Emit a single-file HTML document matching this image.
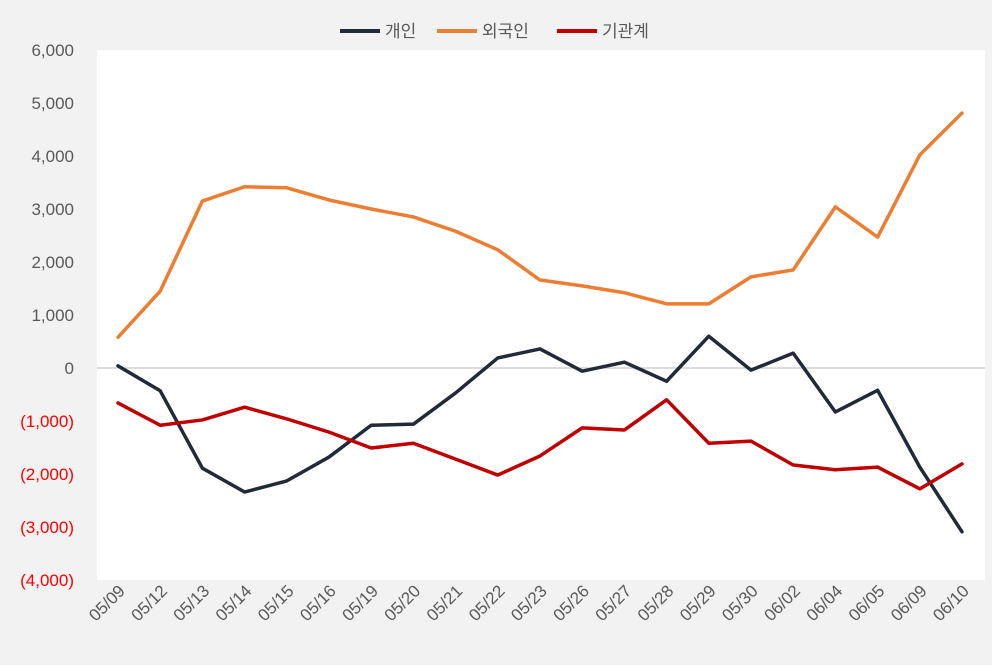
<!DOCTYPE html>
<html><head><meta charset="utf-8"><style>
body{margin:0;background:#f2f2f2;}
svg{display:block;font-family:"Liberation Sans","Noto Sans CJK KR",sans-serif;}
</style></head><body>
<svg id="chart" width="992" height="665" viewBox="0 0 992 665">
<rect x="0" y="0" width="992" height="665" fill="#f2f2f2"/>
<rect x="97" y="50" width="888" height="530" fill="#ffffff"/>
<g id="yaxis"></g>
<g id="xaxis"></g>
<g id="series"></g>
<g>
 <g><line x1="340" y1="31" x2="380" y2="31" stroke="#222a3a" stroke-width="4"/><text x="385" y="37" font-size="17" fill="#595959">개인</text></g>
 <g><line x1="437" y1="31" x2="477" y2="31" stroke="#ed7d31" stroke-width="4"/><text x="482" y="37" font-size="17" fill="#595959">외국인</text></g>
 <g><line x1="557" y1="31" x2="597" y2="31" stroke="#c00000" stroke-width="4"/><text x="602" y="37" font-size="17" fill="#595959">기관계</text></g>
</g>
</svg>
<script>
const categories=["05/09","05/12","05/13","05/14","05/15","05/16","05/19","05/20","05/21","05/22","05/23","05/26","05/27","05/28","05/29","05/30","06/02","06/04","06/05","06/09","06/10"];
const individual=[40,-430,-1890,-2340,-2130,-1680,-1080,-1060,-470,190,360,-60,110,-250,600,-40,280,-830,-420,-1870,-3090];
const foreign=[580,1450,3150,3420,3400,3170,3000,2850,2580,2230,1660,1550,1420,1210,1210,1720,1850,3040,2470,4020,4810];
const institution=[-660,-1080,-980,-740,-960,-1210,-1510,-1420,-1720,-2020,-1660,-1130,-1170,-600,-1420,-1380,-1830,-1920,-1870,-2280,-1810];
const yTicks=[6000,5000,4000,3000,2000,1000,0,-1000,-2000,-3000,-4000];
const NS="http://www.w3.org/2000/svg";
const yMin=-4000,yMax=6000,plotTop=50,plotBot=580;
function y(v){return plotBot-(v-yMin)/(yMax-yMin)*(plotBot-plotTop);}
function x(i){return 118+i*(962-118)/(categories.length-1);}
function fmt(v){const s=Math.abs(v).toLocaleString("en-US");return v<0?"("+s+")":s;}
const ya=document.getElementById("yaxis");
yTicks.forEach(t=>{
 const tx=document.createElementNS(NS,"text");
 
 
 tx.setAttribute("x",74);tx.setAttribute("y",y(t)+6);tx.setAttribute("text-anchor","end");
 tx.setAttribute("font-size","17");tx.setAttribute("fill",t<0?"#ff0000":"#595959");
 tx.textContent=fmt(t);ya.appendChild(tx);
 if(t===0){const l=document.createElementNS(NS,"line");
 
 
 l.setAttribute("x1",97);l.setAttribute("x2",985);l.setAttribute("y1",y(0));l.setAttribute("y2",y(0));
 l.setAttribute("stroke","#d0d0d0");l.setAttribute("stroke-width","1.5");ya.appendChild(l);}
});
const xa=document.getElementById("xaxis");
categories.forEach((c,i)=>{
 const tx=document.createElementNS(NS,"text");
 
 
 const px=x(i)+8,py=592;
 tx.setAttribute("x",px);tx.setAttribute("y",py);tx.setAttribute("text-anchor","end");
 tx.setAttribute("font-size","17");tx.setAttribute("fill","#595959");
 tx.setAttribute("transform","rotate(-45 "+px+" "+py+")");
 tx.textContent=c;xa.appendChild(tx);
});
const sg=document.getElementById("series");
[[individual,"#222a3a","line-individual"],[foreign,"#ed7d31","line-foreign"],[institution,"#c00000","line-institution"]].forEach(([d,col,name])=>{
 const p=document.createElementNS(NS,"polyline");
 
 
 p.setAttribute("points",d.map((v,i)=>x(i)+","+y(v)).join(" "));
 p.setAttribute("fill","none");p.setAttribute("stroke",col);p.setAttribute("stroke-width","3.5");
 p.setAttribute("stroke-linejoin","round");p.setAttribute("stroke-linecap","round");
 sg.appendChild(p);
});
</script>
</body></html>
